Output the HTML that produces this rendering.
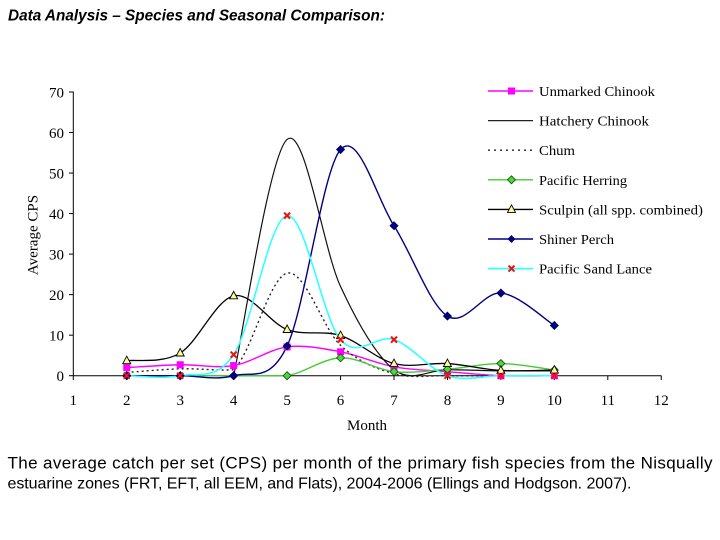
<!DOCTYPE html>
<html><head><meta charset="utf-8"><style>
html,body{margin:0;padding:0;background:#fff;}
svg{display:block;}
.tk{font-family:"Liberation Serif",serif;font-size:15px;fill:#000;}
.lg{font-family:"Liberation Serif",serif;font-size:14px;fill:#000;}
</style></head><body>
<svg width="720" height="540" viewBox="0 0 720 540" xmlns="http://www.w3.org/2000/svg">
<rect width="720" height="540" fill="#fff"/>
<text x="8" y="20.5" font-family="Liberation Sans, sans-serif" font-size="15.5" font-weight="bold" font-style="italic" textLength="377" lengthAdjust="spacingAndGlyphs">Data Analysis – Species and Seasonal Comparison:</text>

<!-- axes -->
<g stroke="#000" stroke-width="1" fill="none">
<line x1="73.3" y1="91.5" x2="73.3" y2="376"/>
<line x1="73.3" y1="375.7" x2="661.5" y2="375.7"/>
<line x1="69" y1="375.7" x2="73.3" y2="375.7"/>
<line x1="69" y1="335.17" x2="73.3" y2="335.17"/>
<line x1="69" y1="294.64" x2="73.3" y2="294.64"/>
<line x1="69" y1="254.11" x2="73.3" y2="254.11"/>
<line x1="69" y1="213.58" x2="73.3" y2="213.58"/>
<line x1="69" y1="173.05" x2="73.3" y2="173.05"/>
<line x1="69" y1="132.52" x2="73.3" y2="132.52"/>
<line x1="69" y1="92" x2="73.3" y2="92"/>
<line x1="73.3" y1="375.7" x2="73.3" y2="380"/>
<line x1="126.75" y1="375.7" x2="126.75" y2="380"/>
<line x1="180.2" y1="375.7" x2="180.2" y2="380"/>
<line x1="233.65" y1="375.7" x2="233.65" y2="380"/>
<line x1="287.1" y1="375.7" x2="287.1" y2="380"/>
<line x1="340.55" y1="375.7" x2="340.55" y2="380"/>
<line x1="394" y1="375.7" x2="394" y2="380"/>
<line x1="447.45" y1="375.7" x2="447.45" y2="380"/>
<line x1="500.9" y1="375.7" x2="500.9" y2="380"/>
<line x1="554.35" y1="375.7" x2="554.35" y2="380"/>
<line x1="607.8" y1="375.7" x2="607.8" y2="380"/>
<line x1="661.25" y1="375.7" x2="661.25" y2="380"/>
</g>
<g class="tk" text-anchor="end">
<text x="64" y="381">0</text>
<text x="64" y="340.5">10</text>
<text x="64" y="300">20</text>
<text x="64" y="259.4">30</text>
<text x="64" y="218.9">40</text>
<text x="64" y="178.4">50</text>
<text x="64" y="137.8">60</text>
<text x="64" y="97.3">70</text>
</g>
<g class="tk" text-anchor="middle">
<text x="73.3" y="405">1</text>
<text x="126.75" y="405">2</text>
<text x="180.2" y="405">3</text>
<text x="233.65" y="405">4</text>
<text x="287.1" y="405">5</text>
<text x="340.55" y="405">6</text>
<text x="394" y="405">7</text>
<text x="447.45" y="405">8</text>
<text x="500.9" y="405">9</text>
<text x="554.35" y="405">10</text>
<text x="607.8" y="405">11</text>
<text x="661.25" y="405">12</text>
<text x="367" y="430">Month</text>
<text transform="translate(37.5,235) rotate(-90)">Average CPS</text>
</g>

<!-- series lines -->
<g fill="none" stroke-width="1.4">
<path stroke="#FF00FF" d="M126.75,367.59 C135.66,367.12 162.38,365.09 180.2,364.76 C198.02,364.42 215.83,368.54 233.65,365.57 C251.47,362.60 269.28,349.22 287.1,346.92 C304.92,344.63 322.73,348.48 340.55,351.79 C358.37,355.10 376.18,363.47 394.0,366.78 C411.82,370.09 429.63,370.16 447.45,371.65 C465.27,373.13 483.08,375.02 500.9,375.7 C518.72,376.38 545.44,375.7 554.35,375.7"/>
<path stroke="#111" stroke-width="1.2" d="M233.65,375.7 C242.56,336.32 269.28,154.27 287.1,139.41 C304.92,124.55 322.73,248.16 340.55,286.53 C358.37,324.90 376.18,355.77 394.0,369.62 C411.82,383.47 429.63,369.42 447.45,369.62 C465.27,369.82 483.08,370.63 500.9,370.84 C518.72,371.04 545.44,370.84 554.35,370.84"/>
<path stroke="#222" stroke-dasharray="2,3" d="M126.75,372.46 C135.66,371.85 162.38,369.28 180.2,368.81 C198.02,368.34 222.0,371.0 233.65,369.62 C251.47,353.68 269.28,277.21 287.1,273.16 C304.92,269.10 322.73,328.55 340.55,345.30 C358.37,362.05 376.18,368.61 394.0,373.67 C411.82,378.74 429.63,375.36 447.45,375.7 C465.27,376.04 483.08,375.7 500.9,375.7 L554.35,375.7"/>
<path stroke="#44CC33" d="M126.75,375.7 L287.1,375.7 C304.92,372.73 322.73,358.54 340.55,357.87 C358.37,357.19 376.18,369.75 394.0,371.65 C411.82,373.54 429.63,370.57 447.45,369.22 C465.27,367.87 483.08,363.41 500.9,363.54 C518.72,363.67 545.44,368.94 554.35,370.03"/>
<path stroke="#000" stroke-width="1.3" d="M126.75,360.70 C135.66,359.42 162.38,363.81 180.2,353.00 C198.02,342.19 215.83,299.78 233.65,295.86 C251.47,291.94 269.28,322.88 287.1,329.50 C304.92,336.11 322.73,329.90 340.55,335.58 C358.37,341.25 376.18,358.88 394.0,363.54 C411.82,368.20 429.63,362.39 447.45,363.54 C465.27,364.69 483.08,369.35 500.9,370.43 C518.72,371.51 545.44,370.09 554.35,370.03"/>
<path stroke="#000080" d="M126.75,375.7 L180.2,375.7 C198.02,375.7 215.83,380.63 233.65,375.7 C251.47,370.77 269.28,383.81 287.1,346.11 C304.92,308.42 322.73,169.61 340.55,149.54 C358.37,129.48 376.18,197.98 394.0,225.74 C411.82,253.50 429.63,304.91 447.45,316.12 C465.27,327.34 483.08,291.47 500.9,293.02 C518.72,294.57 545.44,320.04 554.35,325.44"/>
<path stroke="#33FFFF" stroke-width="1.6" d="M126.75,375.7 C135.66,375.7 162.38,379.21 180.2,375.7 C198.02,372.19 215.83,381.31 233.65,354.62 C251.47,327.94 269.28,218.11 287.1,215.61 C304.92,213.11 322.73,318.96 340.55,339.63 C358.37,360.30 376.18,333.62 394.0,339.63 C411.82,345.64 429.63,369.69 447.45,375.7 C465.27,381.71 483.08,375.7 500.9,375.7 L554.35,375.7"/>
</g>

<!-- markers: Unmarked Chinook -->
<g fill="#FF00FF">
<rect x="123.25" y="364.09" width="7" height="7"/>
<rect x="176.7" y="361.26" width="7" height="7"/>
<rect x="230.15" y="362.07" width="7" height="7"/>
<rect x="283.6" y="343.42" width="7" height="7"/>
<rect x="337.05" y="348.29" width="7" height="7"/>
<rect x="390.5" y="363.28" width="7" height="7"/>
<rect x="443.95" y="368.15" width="7" height="7"/>
<rect x="497.4" y="372.2" width="7" height="7"/>
<rect x="550.85" y="372.2" width="7" height="7"/>
</g>
<!-- Pacific Herring -->
<g fill="#44DD33" stroke="#114411" stroke-width="0.8">
<polygon transform="translate(126.75,375.7)" points="0,-4 4,0 0,4 -4,0"/>
<polygon transform="translate(180.2,375.7)" points="0,-4 4,0 0,4 -4,0"/>
<polygon transform="translate(233.65,375.7)" points="0,-4 4,0 0,4 -4,0"/>
<polygon transform="translate(287.1,375.7)" points="0,-4 4,0 0,4 -4,0"/>
<polygon transform="translate(340.55,357.87)" points="0,-4 4,0 0,4 -4,0"/>
<polygon transform="translate(394,371.65)" points="0,-4 4,0 0,4 -4,0"/>
<polygon transform="translate(447.45,369.22)" points="0,-4 4,0 0,4 -4,0"/>
<polygon transform="translate(500.9,363.54)" points="0,-4 4,0 0,4 -4,0"/>
<polygon transform="translate(554.35,370.03)" points="0,-4 4,0 0,4 -4,0"/>
</g>
<!-- Sculpin -->
<g fill="#FFFF99" stroke="#000" stroke-width="0.9">
<polygon transform="translate(126.75,360.70)" points="0,-4.5 4,3 -4,3"/>
<polygon transform="translate(180.2,353.00)" points="0,-4.5 4,3 -4,3"/>
<polygon transform="translate(233.65,295.86)" points="0,-4.5 4,3 -4,3"/>
<polygon transform="translate(287.1,329.50)" points="0,-4.5 4,3 -4,3"/>
<polygon transform="translate(340.55,335.58)" points="0,-4.5 4,3 -4,3"/>
<polygon transform="translate(394,363.54)" points="0,-4.5 4,3 -4,3"/>
<polygon transform="translate(447.45,363.54)" points="0,-4.5 4,3 -4,3"/>
<polygon transform="translate(500.9,370.43)" points="0,-4.5 4,3 -4,3"/>
<polygon transform="translate(554.35,370.03)" points="0,-4.5 4,3 -4,3"/>
</g>
<!-- Shiner Perch -->
<g fill="#000080" stroke="#000060" stroke-width="0.8">
<polygon transform="translate(126.75,375.7)" points="0,-4 4,0 0,4 -4,0"/>
<polygon transform="translate(180.2,375.7)" points="0,-4 4,0 0,4 -4,0"/>
<polygon transform="translate(233.65,375.7)" points="0,-4 4,0 0,4 -4,0"/>
<polygon transform="translate(287.1,346.11)" points="0,-4 4,0 0,4 -4,0"/>
<polygon transform="translate(340.55,149.54)" points="0,-4 4,0 0,4 -4,0"/>
<polygon transform="translate(394,225.74)" points="0,-4 4,0 0,4 -4,0"/>
<polygon transform="translate(447.45,316.12)" points="0,-4 4,0 0,4 -4,0"/>
<polygon transform="translate(500.9,293.02)" points="0,-4 4,0 0,4 -4,0"/>
<polygon transform="translate(554.35,325.44)" points="0,-4 4,0 0,4 -4,0"/>
</g>
<!-- Pacific Sand Lance -->
<g stroke="#EE1111" stroke-width="2" fill="none">
<path transform="translate(126.75,375.7)" d="M-3,-3 L3,3 M3,-3 L-3,3"/>
<path transform="translate(180.2,375.7)" d="M-3,-3 L3,3 M3,-3 L-3,3"/>
<path transform="translate(233.65,354.62)" d="M-3,-3 L3,3 M3,-3 L-3,3"/>
<path transform="translate(287.1,215.61)" d="M-3,-3 L3,3 M3,-3 L-3,3"/>
<path transform="translate(340.55,339.63)" d="M-3,-3 L3,3 M3,-3 L-3,3"/>
<path transform="translate(394,339.63)" d="M-3,-3 L3,3 M3,-3 L-3,3"/>
<path transform="translate(447.45,375.7)" d="M-3,-3 L3,3 M3,-3 L-3,3"/>
<path transform="translate(500.9,375.7)" d="M-3,-3 L3,3 M3,-3 L-3,3"/>
<path transform="translate(554.35,375.7)" d="M-3,-3 L3,3 M3,-3 L-3,3"/>
</g>

<!-- legend -->
<g fill="none" stroke-width="1.4">
<line x1="488" y1="91" x2="533" y2="91" stroke="#FF00FF"/>
<line x1="488" y1="120.6" x2="533" y2="120.6" stroke="#222" stroke-width="1.2"/>
<line x1="488" y1="150.2" x2="533" y2="150.2" stroke="#222" stroke-dasharray="2,4"/>
<line x1="488" y1="179.8" x2="533" y2="179.8" stroke="#44CC33"/>
<line x1="488" y1="209.4" x2="533" y2="209.4" stroke="#000"/>
<line x1="488" y1="239" x2="533" y2="239" stroke="#000080"/>
<line x1="488" y1="268.6" x2="533" y2="268.6" stroke="#33FFFF" stroke-width="1.8"/>
</g>
<rect x="508" y="87.5" width="7" height="7" fill="#FF00FF"/>
<polygon transform="translate(511.5,179.8)" points="0,-4 4,0 0,4 -4,0" fill="#44DD33" stroke="#114411" stroke-width="0.8"/>
<polygon transform="translate(511.5,209.4)" points="0,-4.5 4,3 -4,3" fill="#FFFF99" stroke="#000" stroke-width="0.9"/>
<polygon transform="translate(511.5,239)" points="0,-4 4,0 0,4 -4,0" fill="#000080"/>
<path transform="translate(511.5,268.6)" d="M-3,-3 L3,3 M3,-3 L-3,3" stroke="#EE1111" stroke-width="2"/>
<g class="lg">
<text x="539" y="96" textLength="116" lengthAdjust="spacingAndGlyphs">Unmarked Chinook</text>
<text x="539" y="125.6" textLength="110" lengthAdjust="spacingAndGlyphs">Hatchery Chinook</text>
<text x="539" y="155.2" textLength="36" lengthAdjust="spacingAndGlyphs">Chum</text>
<text x="539" y="184.8" textLength="88" lengthAdjust="spacingAndGlyphs">Pacific Herring</text>
<text x="539" y="214.4" textLength="164" lengthAdjust="spacingAndGlyphs">Sculpin (all spp. combined)</text>
<text x="539" y="244" textLength="75" lengthAdjust="spacingAndGlyphs">Shiner Perch</text>
<text x="539" y="273.6" textLength="113" lengthAdjust="spacingAndGlyphs">Pacific Sand Lance</text>
</g>

<!-- caption -->
<g font-family="Liberation Sans, sans-serif" fill="#000">
<text x="7.5" y="468.5" font-size="17" textLength="705" lengthAdjust="spacing">The average catch per set (CPS) per month of the primary fish species from the Nisqually</text>
<text x="7.5" y="488.5" font-size="16" textLength="624" lengthAdjust="spacing">estuarine zones (FRT, EFT, all EEM, and Flats), 2004-2006 (Ellings and Hodgson. 2007).</text>
</g>
</svg>
</body></html>
